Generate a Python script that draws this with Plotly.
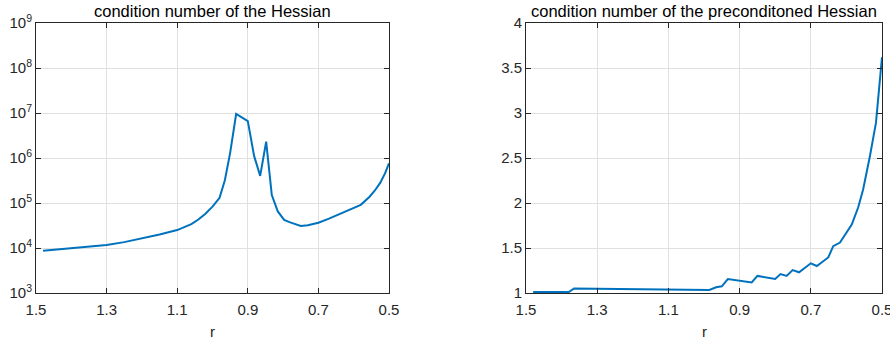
import plotly.graph_objects as go

# Left: condition number of the Hessian
r_left = [1.48, 1.44, 1.40, 1.35, 1.30, 1.25, 1.20, 1.15, 1.10, 1.08, 1.06, 1.04, 1.02,
          1.00, 0.98, 0.965, 0.95, 0.933, 0.90, 0.882, 0.865, 0.848, 0.832, 0.815,
          0.797, 0.78, 0.75, 0.73, 0.70, 0.67, 0.64, 0.61, 0.58, 0.555, 0.54, 0.525,
          0.511, 0.50]
cond_hessian = [8.7e3, 9.3e3, 1.0e4, 1.08e4, 1.17e4, 1.35e4, 1.62e4, 2.0e4, 2.5e4, 2.9e4,
                3.4e4, 4.3e4, 5.8e4, 8.3e4, 1.3e5, 3.2e5, 1.3e6, 9.5e6, 6.6e6, 1.1e6,
                4.0e5, 2.3e6, 1.5e5, 6.5e4, 4.2e4, 3.7e4, 3.1e4, 3.2e4, 3.65e4, 4.5e4,
                5.7e4, 7.2e4, 9.1e4, 1.38e5, 1.9e5, 2.8e5, 4.6e5, 7.6e5]

# Right: condition number of the preconditioned Hessian
r_right = [1.48, 1.38, 1.365, 0.985, 0.966, 0.95, 0.933, 0.90, 0.866, 0.85, 0.80,
           0.785, 0.768, 0.751, 0.733, 0.70, 0.683, 0.651, 0.637, 0.618, 0.60,
           0.585, 0.567, 0.553, 0.534, 0.517, 0.50]
cond_precond = [1.01, 1.01, 1.05, 1.033, 1.063, 1.074, 1.155, 1.135, 1.118, 1.19, 1.155,
                1.21, 1.19, 1.255, 1.23, 1.33, 1.30, 1.395, 1.52, 1.56, 1.67,
                1.76, 1.95, 2.15, 2.52, 2.89, 3.62]

x_ticks = [1.5, 1.3, 1.1, 0.9, 0.7, 0.5]
x_ticklabels = ["1.5", "1.3", "1.1", "0.9", "0.7", "0.5"]
log_exponents = [3, 4, 5, 6, 7, 8, 9]
right_ticks = [1, 1.5, 2, 2.5, 3, 3.5, 4]
right_ticklabels = ["1", "1.5", "2", "2.5", "3", "3.5", "4"]

titles = ["condition number of the Hessian", "condition number of the preconditoned Hessian"]

line_color = "#0072BD"
axis_color = "#262626"
grid_color = "#e0e0e0"
font_family = "Liberation Sans, Arial, sans-serif"

fig = go.Figure()
fig.add_trace(go.Scatter(x=r_left, y=cond_hessian, mode="lines",
                         line=dict(color=line_color, width=2), xaxis="x", yaxis="y",
                         showlegend=False))
fig.add_trace(go.Scatter(x=r_right, y=cond_precond, mode="lines",
                         line=dict(color=line_color, width=2), xaxis="x2", yaxis="y2",
                         showlegend=False))

common_axis = dict(showline=True, linecolor=axis_color, linewidth=1, mirror="ticks",
                   ticks="inside", ticklen=5, tickcolor=axis_color, showgrid=True,
                   gridcolor=grid_color, gridwidth=1, zeroline=False, automargin=False,
                   ticklabeloverflow="allow",
                   tickfont=dict(family=font_family, size=15, color=axis_color))

ML, MR = 36, 8
W = 890 - ML - MR
L0, L1 = 0.0, (389 - ML) / W
R0, R1 = (526 - ML) / W, 1.0

fig.update_layout(
    width=890, height=339,
    margin=dict(l=ML, r=MR, t=23, b=46, autoexpand=False),
    paper_bgcolor="white", plot_bgcolor="white",
    font=dict(family=font_family, size=15, color=axis_color),
    xaxis=dict(domain=[L0, L1], range=[1.5, 0.5], tickvals=x_ticks, ticktext=x_ticklabels,
               anchor="y", ticklabelstandoff=3, **common_axis),
    yaxis=dict(type="log", range=[3, 9], anchor="x",
               tickvals=[10 ** e for e in log_exponents],
               ticktext=[f"10<sup>{e}</sup>" for e in log_exponents], **common_axis),
    xaxis2=dict(domain=[R0, R1], range=[1.5, 0.5], tickvals=x_ticks, ticktext=x_ticklabels,
                anchor="y2", ticklabelstandoff=3, **common_axis),
    yaxis2=dict(range=[1, 4], anchor="x2", tickvals=right_ticks, ticktext=right_ticklabels,
                **common_axis),
    annotations=[
        dict(text=titles[0], x=(L0 + L1) / 2, y=1.0, xref="paper", yref="paper",
             xanchor="center", yanchor="bottom", yshift=1, showarrow=False,
             font=dict(family=font_family, size=16.5, color="black")),
        dict(text=titles[1], x=(R0 + R1) / 2, y=1.0, xref="paper", yref="paper",
             xanchor="center", yanchor="bottom", yshift=1, showarrow=False,
             font=dict(family=font_family, size=16.5, color="black")),
        dict(text="r", x=(L0 + L1) / 2, y=0, xref="paper", yref="paper",
             xanchor="center", yanchor="middle", yshift=-38, showarrow=False,
             font=dict(family=font_family, size=15, color=axis_color)),
        dict(text="r", x=(R0 + R1) / 2, y=0, xref="paper", yref="paper",
             xanchor="center", yanchor="middle", yshift=-38, showarrow=False,
             font=dict(family=font_family, size=15, color=axis_color)),
    ],
)

fig.write_html("out.html", config={"displayModeBar": False})

# remove the default page margin so the figure sits at the window's top-left corner
with open("out.html", "r", encoding="utf-8") as f:
    html = f.read()
html = html.replace("<body>", '<body style="margin:0;overflow:hidden">', 1)
with open("out.html", "w", encoding="utf-8") as f:
    f.write(html)
